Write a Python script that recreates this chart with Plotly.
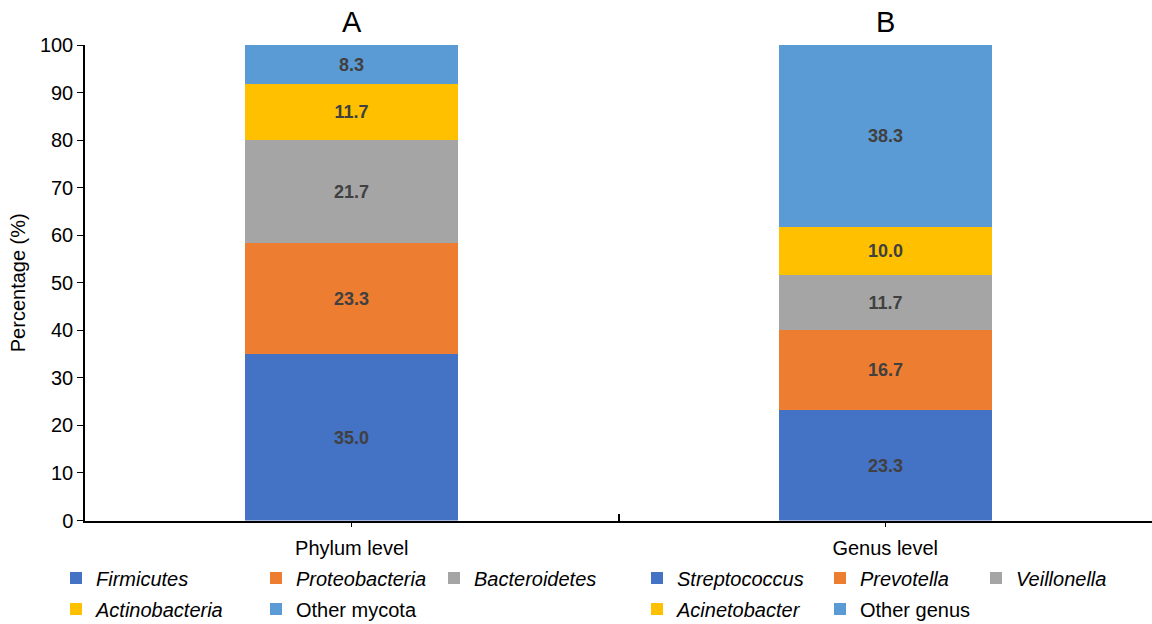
import plotly.graph_objects as go

# Relative abundance at phylum and genus level
categories = ["Phylum level", "Genus level"]

phylum_names = ["<i>Firmicutes</i>", "<i>Proteobacteria</i>", "<i>Bacteroidetes</i>",
                "<i>Actinobacteria</i>", "Other mycota"]
phylum_values = [35.0, 23.3, 21.7, 11.7, 8.3]

genus_names = ["<i>Streptococcus</i>", "<i>Prevotella</i>", "<i>Veillonella</i>",
               "<i>Acinetobacter</i>", "Other genus"]
genus_values = [23.3, 16.7, 11.7, 10.0, 38.3]

panel_labels = ["A", "B"]

colors = ["#4472C4", "#ED7D31", "#A5A5A5", "#FFC000", "#5B9BD5"]
FONT = "Liberation Sans, Arial, sans-serif"

# legend entry placement (container pixels): left edge and row centre
phylum_legend_x = [56, 256, 434, 56, 256]
genus_legend_x = [637, 820, 976, 637, 820]
legend_row_y = [578, 578, 578, 609, 609]

fig = go.Figure()

legend_layout = {}
k = 0
for cat, names, values, lx in ((categories[0], phylum_names, phylum_values, phylum_legend_x),
                               (categories[1], genus_names, genus_values, genus_legend_x)):
    for name, val, col, x0, y0 in zip(names, values, colors, lx, legend_row_y):
        k += 1
        key = "legend" if k == 1 else f"legend{k}"
        fig.add_trace(go.Bar(
            x=[cat], y=[val], name=name, marker_color=col,
            marker_line_width=0, width=0.4, legend=key,
            texttemplate="%{y:.1f}", textposition="inside", insidetextanchor="middle",
            textfont=dict(family=FONT, size=18, color="#404040", weight="bold"),
        ))
        legend_layout[key] = dict(
            orientation="h", xref="container", yref="container",
            x=x0 / 1152, y=1 - y0 / 624, xanchor="left", yanchor="middle",
            bgcolor="rgba(0,0,0,0)", itemwidth=30,
            font=dict(family=FONT, size=20, color="black"),
        )

# invisible helper trace that carries the boundary tick between categories
fig.add_trace(go.Scatter(x=[0.5], y=[0], xaxis="x2", mode="markers",
                         marker_opacity=0, showlegend=False, hoverinfo="skip"))

for cat, lab in zip(categories, panel_labels):
    fig.add_annotation(x=cat, y=1, xref="x", yref="paper", yanchor="middle", yshift=23,
                       text=lab, showarrow=False,
                       font=dict(family=FONT, size=29, color="black"))

fig.update_layout(
    width=1152, height=624,
    margin=dict(l=85, r=0, t=45, b=101),
    plot_bgcolor="white", paper_bgcolor="white",
    barmode="stack", bargap=0,
    font=dict(family=FONT, size=20, color="black"),
    xaxis=dict(type="category", range=[-0.5, 1.5], showline=True, linecolor="black",
               linewidth=2, ticks="outside", ticklen=4, tickcolor="black",
               tickfont=dict(size=20), ticklabelstandoff=4, showgrid=False, zeroline=False),
    xaxis2=dict(overlaying="x", range=[-0.5, 1.5], tickvals=[0.5], ticks="inside",
                ticklen=7, tickwidth=2, tickcolor="black", showticklabels=False,
                showgrid=False, zeroline=False, showline=False),
    yaxis=dict(range=[0, 100], dtick=10, showline=True, linecolor="black", linewidth=1.5,
               ticks="outside", ticklen=6, tickcolor="black", showgrid=False,
               zeroline=False, tickfont=dict(size=20), ticklabelstandoff=0,
               title=dict(text="Percentage (%)", font=dict(size=20), standoff=9)),
    **legend_layout,
)

fig.write_html("out.html")
